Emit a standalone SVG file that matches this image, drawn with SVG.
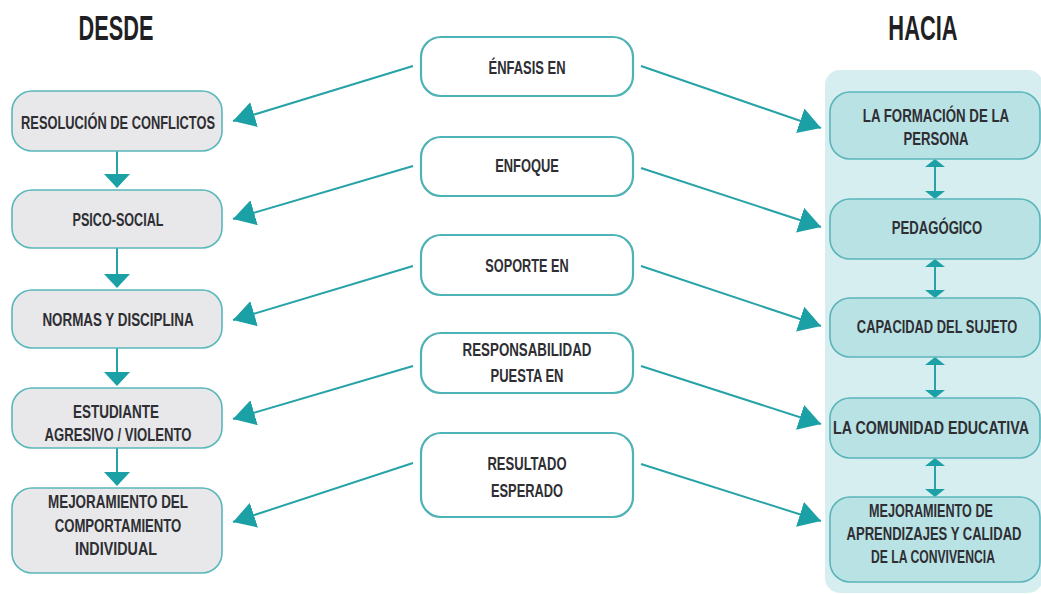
<svg xmlns="http://www.w3.org/2000/svg" width="1041" height="594" viewBox="0 0 1041 594">
<style>
text{font-family:"Liberation Sans","DejaVu Sans",sans-serif;font-weight:bold;fill:#2e2e33;text-anchor:middle;font-size:19px}
.h{font-size:35px;fill:#1f1f24}
.lb{fill:#e8e8ea;stroke:#5ab7ba;stroke-width:1.6}
.mb{fill:#ffffff;stroke:#4fb2b5;stroke-width:2.2}
.rb{fill:#b9e2e5;stroke:#5ab5b9;stroke-width:1.6}
.c{stroke:#27a3a8;stroke-width:2;fill:none}
.t{fill:#1aa0a5}
</style>
<defs>
<marker id="ah" markerUnits="userSpaceOnUse" markerWidth="24" markerHeight="26" viewBox="0 0 24 26" refX="22" refY="13" orient="auto">
<path d="M0,0 L22,13 L0,26 Z" fill="#1aa0a5"/>
</marker>
</defs>
<rect x="825" y="70" width="218" height="523" rx="15" fill="#d6eef0"/>
<text class="h" transform="translate(116,40) scale(0.7,1)" textLength="107" lengthAdjust="spacingAndGlyphs">DESDE</text>
<text class="h" transform="translate(923,40) scale(0.7,1)" textLength="99" lengthAdjust="spacingAndGlyphs">HACIA</text>
<g id="connectors">
<line class="c" x1="413" y1="66" x2="233" y2="121" marker-end="url(#ah)"/>
<line class="c" x1="413" y1="166" x2="233" y2="219" marker-end="url(#ah)"/>
<line class="c" x1="413" y1="266" x2="233" y2="320" marker-end="url(#ah)"/>
<line class="c" x1="413" y1="366" x2="233" y2="419" marker-end="url(#ah)"/>
<line class="c" x1="413" y1="463" x2="233" y2="522" marker-end="url(#ah)"/>
<line class="c" x1="641" y1="66" x2="821" y2="128" marker-end="url(#ah)"/>
<line class="c" x1="641" y1="168" x2="821" y2="227" marker-end="url(#ah)"/>
<line class="c" x1="641" y1="266" x2="821" y2="326" marker-end="url(#ah)"/>
<line class="c" x1="641" y1="366" x2="821" y2="424" marker-end="url(#ah)"/>
<line class="c" x1="641" y1="464" x2="821" y2="521" marker-end="url(#ah)"/>
<line class="c" x1="117" y1="151" x2="117" y2="176"/>
<path class="t" d="M104,174 L130,174 L117,188 Z"/>
<line class="c" x1="117" y1="248" x2="117" y2="276"/>
<path class="t" d="M104,274 L130,274 L117,288 Z"/>
<line class="c" x1="117" y1="348" x2="117" y2="374"/>
<path class="t" d="M104,372 L130,372 L117,386 Z"/>
<line class="c" x1="117" y1="448" x2="117" y2="474"/>
<path class="t" d="M104,472 L130,472 L117,486 Z"/>
<line class="c" x1="935" y1="165" x2="935" y2="193"/>
<path class="t" d="M925,167 L945,167 L935,159 Z"/>
<path class="t" d="M925,191 L945,191 L935,199 Z"/>
<line class="c" x1="935" y1="265" x2="935" y2="292"/>
<path class="t" d="M925,267 L945,267 L935,259 Z"/>
<path class="t" d="M925,290 L945,290 L935,298 Z"/>
<line class="c" x1="935" y1="363" x2="935" y2="392"/>
<path class="t" d="M925,365 L945,365 L935,357 Z"/>
<path class="t" d="M925,390 L945,390 L935,398 Z"/>
<line class="c" x1="935" y1="464" x2="935" y2="491"/>
<path class="t" d="M925,466 L945,466 L935,458 Z"/>
<path class="t" d="M925,489 L945,489 L935,497 Z"/>
</g>
<g id="desde1"><rect class="lb" x="12" y="91" width="210" height="60" rx="20"/><text transform="translate(118,129) scale(0.7,1)" textLength="277" lengthAdjust="spacingAndGlyphs">RESOLUCIÓN DE CONFLICTOS</text></g>
<g id="desde2"><rect class="lb" x="12" y="190" width="210" height="58" rx="20"/><text transform="translate(118,226) scale(0.7,1)" textLength="130" lengthAdjust="spacingAndGlyphs">PSICO-SOCIAL</text></g>
<g id="desde3"><rect class="lb" x="12" y="290" width="210" height="58" rx="20"/><text transform="translate(118,326) scale(0.7,1)" textLength="216" lengthAdjust="spacingAndGlyphs">NORMAS Y DISCIPLINA</text></g>
<g id="desde4"><rect class="lb" x="12" y="388" width="210" height="60" rx="20"/><text transform="translate(116,418) scale(0.7,1)" textLength="123" lengthAdjust="spacingAndGlyphs">ESTUDIANTE</text><text transform="translate(118,441) scale(0.7,1)" textLength="210" lengthAdjust="spacingAndGlyphs">AGRESIVO / VIOLENTO</text></g>
<g id="desde5"><rect class="lb" x="12" y="488" width="210" height="85" rx="20"/><text transform="translate(118,508) scale(0.7,1)" textLength="200" lengthAdjust="spacingAndGlyphs">MEJORAMIENTO DEL</text><text transform="translate(118,532) scale(0.7,1)" textLength="181" lengthAdjust="spacingAndGlyphs">COMPORTAMIENTO</text><text transform="translate(116,555) scale(0.7,1)" textLength="117" lengthAdjust="spacingAndGlyphs">INDIVIDUAL</text></g>
<g id="enfasis"><rect class="mb" x="421" y="37" width="212" height="59" rx="20"/><text transform="translate(527,74) scale(0.7,1)" textLength="110" lengthAdjust="spacingAndGlyphs">ÉNFASIS EN</text></g>
<g id="enfoque"><rect class="mb" x="421" y="137" width="212" height="59" rx="20"/><text transform="translate(527,172) scale(0.7,1)" textLength="91" lengthAdjust="spacingAndGlyphs">ENFOQUE</text></g>
<g id="soporte"><rect class="mb" x="421" y="235" width="212" height="60" rx="20"/><text transform="translate(527,272) scale(0.7,1)" textLength="119" lengthAdjust="spacingAndGlyphs">SOPORTE EN</text></g>
<g id="responsabilidad"><rect class="mb" x="421" y="333" width="212" height="60" rx="20"/><text transform="translate(527,356) scale(0.7,1)" textLength="184" lengthAdjust="spacingAndGlyphs">RESPONSABILIDAD</text><text transform="translate(527,382) scale(0.7,1)" textLength="104" lengthAdjust="spacingAndGlyphs">PUESTA EN</text></g>
<g id="resultado"><rect class="mb" x="421" y="433" width="212" height="84" rx="20"/><text transform="translate(527,470) scale(0.7,1)" textLength="113" lengthAdjust="spacingAndGlyphs">RESULTADO</text><text transform="translate(527,497) scale(0.7,1)" textLength="103" lengthAdjust="spacingAndGlyphs">ESPERADO</text></g>
<g id="hacia1"><rect class="rb" x="830" y="92" width="210" height="67" rx="20"/><text transform="translate(936,122) scale(0.7,1)" textLength="209" lengthAdjust="spacingAndGlyphs">LA FORMACIÓN DE LA</text><text transform="translate(936,145) scale(0.7,1)" textLength="93" lengthAdjust="spacingAndGlyphs">PERSONA</text></g>
<g id="hacia2"><rect class="rb" x="830" y="199" width="210" height="60" rx="20"/><text transform="translate(937,234) scale(0.7,1)" textLength="129" lengthAdjust="spacingAndGlyphs">PEDAGÓGICO</text></g>
<g id="hacia3"><rect class="rb" x="830" y="298" width="210" height="59" rx="20"/><text transform="translate(937,333) scale(0.7,1)" textLength="229" lengthAdjust="spacingAndGlyphs">CAPACIDAD DEL SUJETO</text></g>
<g id="hacia4"><rect class="rb" x="830" y="398" width="210" height="60" rx="20"/><text transform="translate(931,434) scale(0.7,1)" textLength="280" lengthAdjust="spacingAndGlyphs">LA COMUNIDAD EDUCATIVA</text></g>
<g id="hacia5"><rect class="rb" x="830" y="497" width="210" height="85" rx="20"/><text transform="translate(931,517) scale(0.7,1)" textLength="177" lengthAdjust="spacingAndGlyphs">MEJORAMIENTO DE</text><text transform="translate(934,540) scale(0.7,1)" textLength="250" lengthAdjust="spacingAndGlyphs">APRENDIZAJES Y CALIDAD</text><text transform="translate(933,563) scale(0.7,1)" textLength="177" lengthAdjust="spacingAndGlyphs">DE LA CONVIVENCIA</text></g>
</svg>
